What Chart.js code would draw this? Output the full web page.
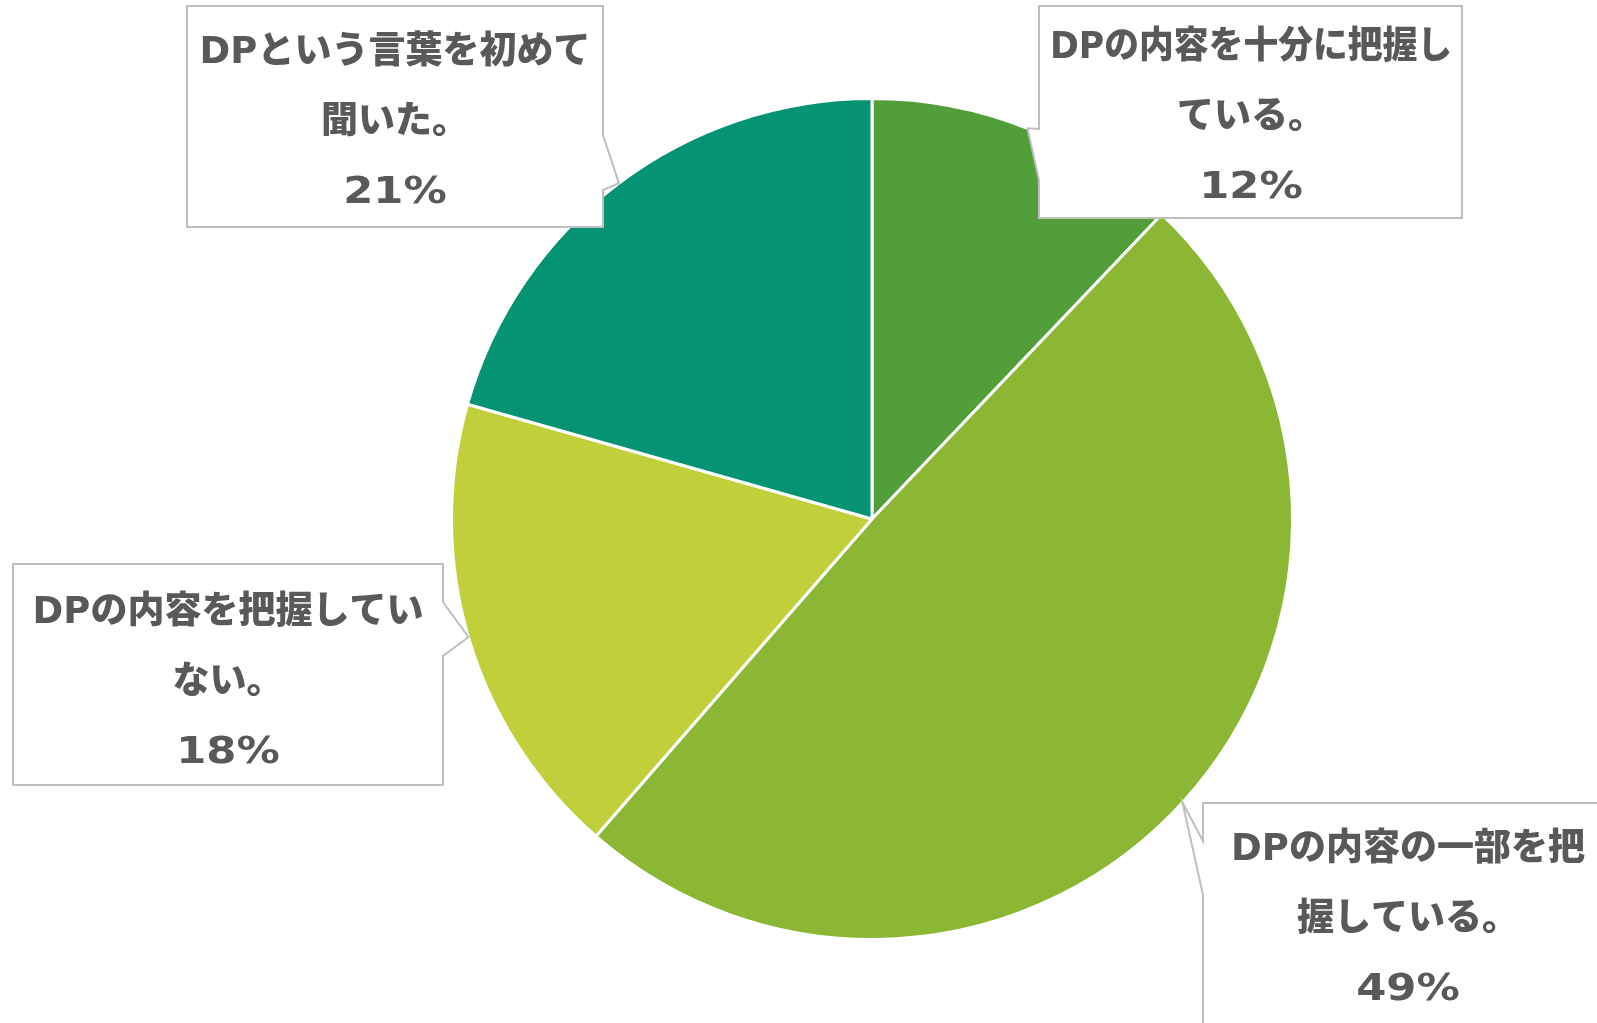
<!DOCTYPE html>
<html lang="ja">
<head>
<meta charset="utf-8">
<title>DP認知度</title>
<script src="https://cdn.jsdelivr.net/npm/chart.js@4.4.1/dist/chart.umd.min.js"></script>
<style>
    html, body { margin: 0; padding: 0; background: #ffffff; overflow: hidden; }
    #wrap { position: relative; width: 1597px; height: 1023px; }
</style>
</head>
<body>
<div id="wrap"><canvas id="dpPieChart"></canvas></div>
<script>
/* ============================================================================
   DP awareness pie chart
   - 4 slices, white separators
   - speech-bubble callouts drawn by an inline plugin
   ============================================================================ */

const categories = [
    'DPの内容を十分に把握している。',
    'DPの内容の一部を把握している。',
    'DPの内容を把握していない。',
    'DPという言葉を初めて聞いた。'
];
const shares = [12.1, 49.3, 18.0, 20.6];
const sliceColors = ['#529E3A', '#8BB734', '#C0CF3A', '#059473'];

// callout layout: box rect, where the first line wraps, which side the pointer sits on,
// the pointer's base on that side, and the angle (deg from top, clockwise) of its tip
const callouts = [
    { box: [1039, 6, 423, 212],   breakAt: 12, side: 'left',  base: [129, 180], tipAngle: 21.7,  cx: 1251, firstLine: 42, fit: 402 },
    { box: [1203, 803, 410, 260], breakAt: 10, side: 'left',  base: [841, 895], tipAngle: 132.4, cx: 1408, firstLine: 47 },
    { box: [13, 564, 430, 221],   breakAt: 11, side: 'right', base: [602, 656], tipAngle: 253.7, cx: 228,  firstLine: 49 },
    { box: [187, 6, 416, 221],    breakAt: 11, side: 'right', base: [135, 190], tipAngle: 323.0, cx: 395,  firstLine: 47 }
];

const LINE_STEP = 70;
const TEXT_FONT = '900 37px "DejaVu Sans", "Noto Sans CJK JP", sans-serif';
const PCT_STRETCH = 1.17;   // DejaVu digits run narrow next to the original's

const calloutPlugin = {
    id: 'calloutPlugin',
    afterDraw(chart) {
        const ctx = chart.ctx;
        const arc0 = chart.getDatasetMeta(0).data[0];
        const { x: cxPie, y: cyPie, outerRadius } = arc0.getProps(['x', 'y', 'outerRadius'], true);
        const total = shares.reduce((a, b) => a + b, 0);

        callouts.forEach((c, i) => {
            const [bx, by, bw, bh] = c.box;
            const rad = c.tipAngle * Math.PI / 180;
            const tipX = cxPie + Math.sin(rad) * outerRadius;
            const tipY = cyPie - Math.cos(rad) * outerRadius;

            ctx.save();
            ctx.beginPath();
            ctx.moveTo(bx, by);
            ctx.lineTo(bx + bw, by);
            if (c.side === 'right') {
                ctx.lineTo(bx + bw, c.base[0]);
                ctx.lineTo(tipX, tipY);
                ctx.lineTo(bx + bw, c.base[1]);
            }
            ctx.lineTo(bx + bw, by + bh);
            ctx.lineTo(bx, by + bh);
            if (c.side === 'left') {
                ctx.lineTo(bx, c.base[1]);
                ctx.lineTo(tipX, tipY);
                ctx.lineTo(bx, c.base[0]);
            }
            ctx.closePath();
            ctx.fillStyle = '#ffffff';
            ctx.fill();
            ctx.lineWidth = 2;
            ctx.strokeStyle = '#BFBFBF';
            ctx.stroke();

            const label = categories[i];
            const pct = Math.round(shares[i] / total * 100) + '%';
            ctx.font = TEXT_FONT;
            ctx.fillStyle = '#595959';
            ctx.textAlign = 'center';
            ctx.textBaseline = 'middle';
            if (c.fit) {
                ctx.fillText(label.slice(0, c.breakAt), c.cx, by + c.firstLine, c.fit);
            } else {
                ctx.fillText(label.slice(0, c.breakAt), c.cx, by + c.firstLine);
            }
            ctx.fillText(label.slice(c.breakAt), c.cx, by + c.firstLine + LINE_STEP);

            // percentage line, stretched horizontally around its centre
            ctx.save();
            ctx.translate(c.cx, by + c.firstLine + 2 * LINE_STEP);
            ctx.scale(PCT_STRETCH, 1);
            ctx.fillText(pct, 0, 0);
            ctx.restore();
            ctx.restore();
        });
    }
};

const dpChart = new Chart(document.getElementById('dpPieChart'), {
    type: 'pie',
    data: {
        labels: categories,
        datasets: [{
            data: shares,
            backgroundColor: sliceColors,
            borderColor: '#ffffff',
            borderWidth: 3
        }]
    },
    options: {
        responsive: true,
        maintainAspectRatio: false,
        animation: false,
        layout: { padding: { top: 97, bottom: 82, left: 450, right: 303 } },
        plugins: {
            legend: { display: false },
            tooltip: { enabled: false }
        }
    },
    plugins: [calloutPlugin]
});
</script>
</body>
</html>
